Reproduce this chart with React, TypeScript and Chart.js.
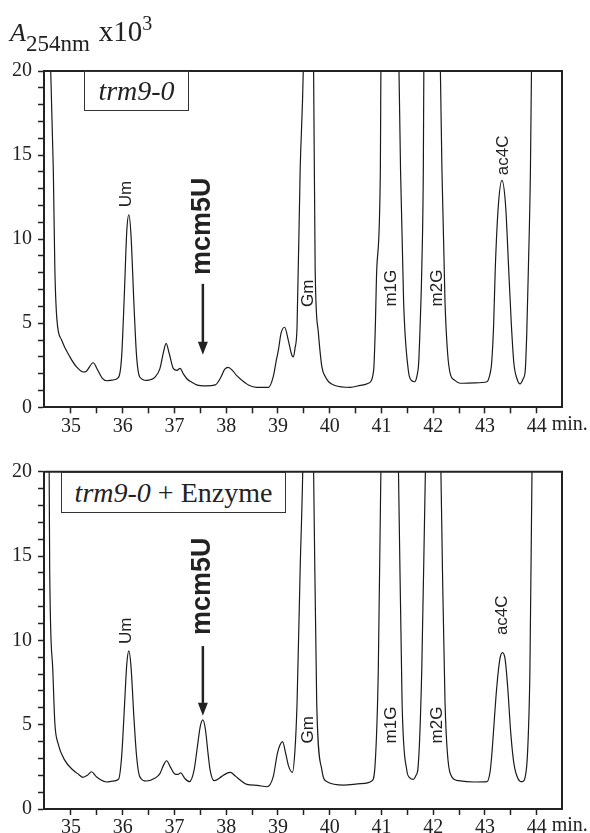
import { useEffect, useRef } from "react";
import Chart from "chart.js/auto";

// retention time (min) and absorbance (x10^3)
const topTime = [
  34.56, 34.61, 34.66, 34.69, 34.73, 34.82, 34.98, 35.11, 35.24, 35.3, 35.43, 35.52, 35.6, 35.69, 35.8,
  35.92, 35.98, 36.03, 36.08, 36.12, 36.16, 36.22, 36.27, 36.33, 36.46, 36.55, 36.62, 36.72, 36.79, 36.84,
  36.9, 36.98, 37.05, 37.11, 37.17, 37.24, 37.33, 37.43, 37.62, 37.79, 37.9, 37.97, 38.04, 38.12, 38.2,
  38.27, 38.43, 38.59, 38.82, 38.91, 38.97, 39.01, 39.06, 39.13, 39.2, 39.27, 39.3, 39.33, 39.37, 39.43,
  39.49, 39.58, 39.69, 39.72, 39.78, 39.85, 39.92, 39.98, 40.1, 40.4, 40.6, 40.75, 40.85, 40.88, 40.91,
  40.98, 40.99, 41.17, 41.34, 41.37, 41.43, 41.52, 41.58, 41.64, 41.69, 41.72, 41.75, 41.78, 41.81, 41.82,
  41.98, 42.14, 42.17, 42.23, 42.28, 42.33, 42.42, 42.52, 42.8, 43.04, 43.1, 43.13, 43.17, 43.2, 43.26,
  43.33, 43.4, 43.46, 43.51, 43.56, 43.62, 43.68, 43.74, 43.78, 43.81, 43.84, 43.88, 43.9, 43.95,
];
const topSignal = [
  30, 20, 14.1, 8.2, 5.2, 4.0, 3.0, 2.4, 2.1, 2.15, 2.65, 2.2, 1.75, 1.58, 1.62,
  1.78, 3.0, 6.5, 10.5, 11.45, 10.3, 6.0, 3.0, 1.8, 1.6, 1.65, 1.78, 2.3, 3.3, 3.8,
  3.2, 2.3, 2.2, 2.32, 2.0, 1.7, 1.5, 1.33, 1.27, 1.33, 1.8, 2.25, 2.38, 2.2, 1.9,
  1.7, 1.33, 1.19, 1.19, 1.82, 2.8, 3.41, 4.4, 4.76, 4.0, 3.1, 3.0, 3.5, 4.8, 14.1,
  20, 40, 20, 8.2, 4.5, 2.4, 1.8, 1.52, 1.3, 1.19, 1.3, 1.43, 2.2, 4.5, 8.2,
  14.1, 20, 40, 20, 14.1, 6.2, 2.2, 1.6, 1.52, 1.9, 2.62, 5.0, 8.2, 14.1, 20,
  40, 20, 14.1, 6.2, 3.2, 2.0, 1.6, 1.43, 1.45, 1.52, 2.0, 2.62, 5.0, 8.2, 12,
  13.5, 12, 8.2, 5.0, 2.62, 1.7, 1.39, 1.7, 2.2, 4.5, 8.2, 14.1, 20, 30,
];

const bottomTime = [
  34.55, 34.58, 34.59, 34.65, 34.69, 34.75, 34.88, 35.04, 35.15, 35.23, 35.32, 35.4, 35.48, 35.56, 35.69,
  35.8, 35.92, 35.98, 36.03, 36.08, 36.12, 36.16, 36.22, 36.27, 36.33, 36.46, 36.62, 36.72, 36.79, 36.85,
  36.92, 37.01, 37.07, 37.12, 37.2, 37.29, 37.38, 37.44, 37.5, 37.55, 37.6, 37.65, 37.69, 37.77, 37.91,
  38.0, 38.08, 38.18, 38.27, 38.4, 38.6, 38.79, 38.91, 38.99, 39.04, 39.09, 39.15, 39.21, 39.28, 39.33,
  39.37, 39.43, 39.48, 39.58, 39.69, 39.75, 39.85, 39.95, 40.27, 40.6, 40.82, 40.88, 40.94, 40.99, 41.16,
  41.33, 41.4, 41.49, 41.55, 41.62, 41.67, 41.71, 41.78, 41.85, 42.0, 42.15, 42.18, 42.23, 42.33, 42.49,
  42.8, 43.04, 43.1, 43.13, 43.23, 43.29, 43.34, 43.39, 43.44, 43.5, 43.56, 43.64, 43.72, 43.8, 43.84,
  43.87, 43.91, 43.96,
];
const bottomSignal = [
  30, 20, 14.2, 8.24, 5.08, 3.9, 2.9, 2.31, 2.05, 1.88, 2.0, 2.21, 1.95, 1.76, 1.6,
  1.65, 1.76, 3.1, 5.8, 8.6, 9.38, 8.5, 5.3, 3.1, 1.92, 1.66, 1.82, 2.1, 2.6, 2.86,
  2.5, 2.07, 2.05, 2.15, 1.82, 1.62, 2.31, 3.6, 4.9, 5.28, 4.7, 3.3, 2.31, 1.68, 1.92,
  2.1, 2.17, 1.95, 1.72, 1.46, 1.4, 1.32, 1.92, 3.3, 3.8, 3.99, 3.3, 2.51, 2.17, 3.5,
  6.27, 14.2, 20, 40, 20, 6.27, 2.31, 1.62, 1.42, 1.5, 1.68, 2.71, 8.24, 20, 40,
  20, 6.27, 2.31, 1.85, 1.76, 2.0, 2.51, 8.24, 20, 40, 20, 14.2, 6.27, 2.11, 1.68,
  1.6, 1.62, 2.2, 3.1, 7.25, 8.9, 9.27, 8.9, 7.25, 4.5, 2.71, 1.8, 1.62, 2.31, 4.5,
  8.24, 20, 30,
];

// peak labels: name, retention time, absorbance at the lower end of the text
const peakNames = ["Um", "Gm", "m1G", "m2G", "ac4C"];
const topPeakX = [36.08, 39.58, 41.2, 42.09, 43.36];
const topPeakY = [11.9, 5.97, 5.99, 6.0, 13.8];
const bottomPeakX = [36.08, 39.58, 41.2, 42.09, 43.33];
const bottomPeakY = [9.78, 3.89, 3.89, 3.89, 10.31];

// mcm5U arrow: [top, bottom]
const arrowName = "mcm5U";
const arrowX = [37.55, 37.55];
const arrowLabelY = [7.87, 10.31];
const arrowFromY = [7.34, 9.66];
const arrowToY = [3.12, 5.53];

const INK = "#222";
const SERIF = '"Liberation Serif", "Times New Roman", serif';
const SANS = '"Liberation Sans", Arial, sans-serif';

interface PanelProps {
  time: number[];
  signal: number[];
  peakX: number[];
  peakY: number[];
  idx: number;
  height: number;
  top: number;
  bottom: number;
}

const Panel = ({ time, signal, peakX, peakY, idx, height, top, bottom }: PanelProps) => {
  const ref = useRef<HTMLCanvasElement>(null);
  const chart = useRef<Chart | null>(null);

  useEffect(() => {
    if (!ref.current) return;
    chart.current?.destroy();

    const marks = {
      id: "marks",
      afterDatasetsDraw(c: any) {
        const { ctx, chartArea: a, scales } = c;
        const x = scales.x;
        const y = scales.y;
        ctx.save();
        ctx.strokeStyle = INK;
        ctx.lineWidth = 2;
        ctx.beginPath();
        ctx.moveTo(a.left, a.top);
        ctx.lineTo(a.right, a.top);
        ctx.lineTo(a.right, a.bottom);
        ctx.stroke();

        ctx.fillStyle = INK;
        ctx.textAlign = "left";
        ctx.textBaseline = "middle";
        ctx.font = `17px ${SANS}`;
        peakNames.forEach((n, i) => {
          ctx.save();
          ctx.translate(x.getPixelForValue(peakX[i]), y.getPixelForValue(peakY[i]));
          ctx.rotate(-Math.PI / 2);
          ctx.fillText(n, 0, 0);
          ctx.restore();
        });

        const ax = x.getPixelForValue(arrowX[idx]);
        ctx.font = `bold 27px ${SANS}`;
        ctx.save();
        ctx.translate(ax, y.getPixelForValue(arrowLabelY[idx]));
        ctx.rotate(-Math.PI / 2);
        ctx.fillText(arrowName, 0, 0);
        ctx.restore();

        const y0 = y.getPixelForValue(arrowFromY[idx]);
        const y1 = y.getPixelForValue(arrowToY[idx]);
        ctx.lineWidth = 2.5;
        ctx.beginPath();
        ctx.moveTo(ax, y0);
        ctx.lineTo(ax, y1 - 10);
        ctx.stroke();
        ctx.beginPath();
        ctx.moveTo(ax - 5, y1 - 13);
        ctx.lineTo(ax + 5, y1 - 13);
        ctx.lineTo(ax, y1);
        ctx.closePath();
        ctx.fill();

        ctx.font = `20px ${SERIF}`;
        ctx.textBaseline = "top";
        ctx.fillText("min.", x.getPixelForValue(44) + 15, x.top + 7);
        ctx.restore();
      },
    };

    chart.current = new Chart(ref.current, {
      type: "line",
      data: {
        datasets: [{
          data: time.map((t, i) => ({ x: t, y: signal[i] })),
          borderColor: "#1a1a1a",
          borderWidth: 1.2,
          pointRadius: 0,
          cubicInterpolationMode: "monotone",
        }],
      },
      options: {
        responsive: false,
        animation: false,
        layout: { padding: { top, right: 28, left: 0, bottom: 0 } },
        plugins: { legend: { display: false }, tooltip: { enabled: false } },
        scales: {
          x: {
            type: "linear",
            min: 34.48,
            max: 44.49,
            afterBuildTicks: (s: any) => {
              s.ticks = s.ticks.filter((t: any) => t.value >= 35 && t.value <= 44.01);
            },
            afterFit: (s: any) => { s.height = height - bottom; },
            ticks: {
              stepSize: 0.5,
              includeBounds: false,
              autoSkip: false,
              maxRotation: 0,
              padding: 1,
              color: INK,
              font: { family: SERIF, size: 20 },
              callback: (v: any) => (Number.isInteger(v) ? String(v) : ""),
            },
            grid: { drawOnChartArea: false, tickLength: 6, tickWidth: 1.5, tickColor: INK },
            border: { color: INK, width: 2 },
          },
          y: {
            min: 0,
            max: 20,
            afterFit: (s: any) => { s.width = 44; },
            ticks: {
              stepSize: 1,
              autoSkip: false,
              padding: 6,
              color: INK,
              font: { family: SERIF, size: 20 },
              callback: (v: any) => (v % 5 === 0 ? String(v) : ""),
            },
            grid: { drawOnChartArea: false, tickLength: 6, tickWidth: 1.5, tickColor: INK },
            border: { color: INK, width: 2 },
          },
        },
      },
      plugins: [marks],
    });

    return () => chart.current?.destroy();
  }, []);

  return <canvas ref={ref} width={590} height={height} style={{ display: "block" }} />;
};

const boxStyle = {
  position: "absolute" as const,
  border: "1px solid #333",
  background: "#fff",
  boxSizing: "border-box" as const,
  fontFamily: SERIF,
  fontSize: 28,
  color: INK,
  display: "flex",
  alignItems: "center",
  justifyContent: "center",
  whiteSpace: "nowrap" as const,
};

export default function App() {
  return (
    <div style={{ position: "absolute", left: 0, top: 0, width: 590, height: 833, background: "#fff", overflow: "hidden" }}>
      <div style={{ position: "absolute", left: 0, top: 0 }}>
        <Panel time={topTime} signal={topSignal} peakX={topPeakX} peakY={topPeakY} idx={0} height={440} top={71} bottom={407.3} />
      </div>
      <div style={{ position: "absolute", left: 0, top: 440 }}>
        <Panel time={bottomTime} signal={bottomSignal} peakX={bottomPeakX} peakY={bottomPeakY} idx={1} height={393} top={31.7} bottom={369} />
      </div>
      <div style={{ position: "absolute", left: 10, top: 18, fontFamily: SERIF, fontSize: 26, lineHeight: "26px", color: INK, whiteSpace: "nowrap" }}>
        <i>A</i>
        <span style={{ fontSize: 23, position: "relative", top: 10 }}>254nm</span>
        <span style={{ marginLeft: 9, fontSize: 29 }}>x10</span>
        <span style={{ fontSize: 20, position: "relative", top: -11 }}>3</span>
      </div>
      <div style={{ ...boxStyle, left: 84, top: 71, width: 105, height: 40 }}>
        <i>trm9-0</i>
      </div>
      <div style={{ ...boxStyle, left: 61, top: 472, width: 225, height: 41 }}>
        <span><i>trm9-0</i> + Enzyme</span>
      </div>
    </div>
  );
}
